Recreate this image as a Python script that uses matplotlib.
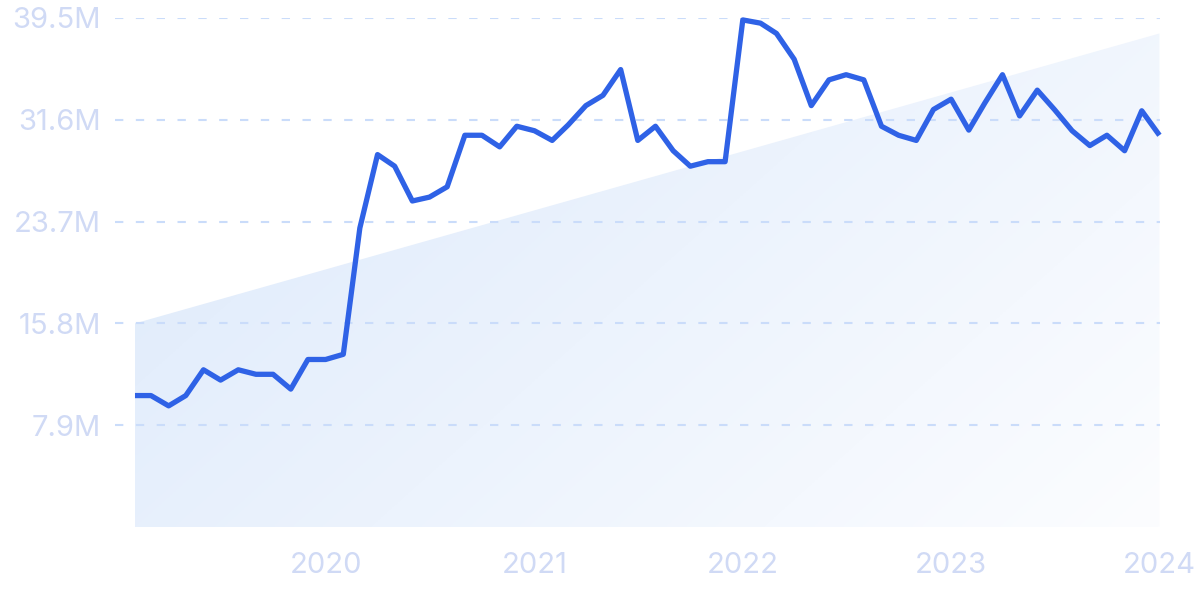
import matplotlib
matplotlib.use("Agg")
import matplotlib.pyplot as plt
import matplotlib.dates as mdates
from matplotlib.patches import Polygon
import numpy as np
import pandas as pd

plt.rcParams['font.family'] = ['Inter', 'DejaVu Sans']

# monthly values, millions (Feb 2019 .. Jan 2024)
months = pd.date_range("2019-02-01", "2024-01-01", freq="MS")
values = [10.2, 10.2, 9.4, 10.2, 12.2, 11.4, 12.2, 11.85, 11.85, 10.7, 13.0,
          13.0, 13.4, 23.2, 28.9, 28.0, 25.3, 25.6, 26.4, 30.4, 30.4, 29.5, 31.1,
          30.75, 30.0, 31.2, 32.7, 33.5, 35.5, 30.0, 31.1, 29.2, 28.0, 28.35, 28.35,
          39.35, 39.1, 38.3, 36.3, 32.7, 34.7, 35.1, 34.7, 31.1, 30.4, 30.0, 32.4,
          33.2, 30.8, 32.9, 35.1, 31.9, 33.9, 32.4, 30.75, 29.6, 30.4, 29.2, 32.3,
          30.4]
trend_start = 15.8
trend_end = 38.3
y_ticks = [7.9, 15.8, 23.7, 31.6, 39.5]
y_labels = ["7.9M", "15.8M", "23.7M", "31.6M", "39.5M"]
x_years = [2020, 2021, 2022, 2023, 2024]

label_col = "#d0daf5"
line_col = "#2f62e6"

fig = plt.figure(figsize=(12, 5.99), dpi=100)
ax = fig.add_axes([115 / 1200, 72 / 599, 1045 / 1200, 509 / 599])

x = mdates.date2num(months)
x0, x1 = x[0], x[-1]
ax.set_xlim(x0 - 35, x1 + 1)
ax.set_ylim(0, 39.5)

# trend area with diagonal gradient
poly = Polygon([(x0, 0), (x0, trend_start), (x1, trend_end), (x1, 0)],
               closed=True, facecolor="none", edgecolor="none")
ax.add_patch(poly)
gx, gy = np.meshgrid(np.linspace(0, 1, 300), np.linspace(0, 1, 200))
t = np.clip(0.65 * gx + 0.35 * gy, 0, 1)
c0 = np.array([220, 233, 251]) / 255
c1 = np.array([252, 253, 255]) / 255
img = c0[None, None, :] * (1 - t[..., None]) + c1[None, None, :] * t[..., None]
im = ax.imshow(img, extent=[x0, x1, 0, trend_end], origin="upper",
               aspect="auto", zorder=0)
im.set_clip_path(poly)

for yv in y_ticks:
    ax.axhline(yv, color="#cadcfa", lw=1.5, linestyle=(0, (4, 6)), zorder=1)

ax.plot(x, values, color=line_col, lw=3.8, solid_joinstyle="round",
        solid_capstyle="butt", zorder=3, clip_on=False)

ax.set_yticks(y_ticks)
ax.set_yticklabels(y_labels)
ax.set_xticks([mdates.date2num(pd.Timestamp(f"{y}-01-01")) for y in x_years])
ax.set_xticklabels([str(y) for y in x_years])
ax.tick_params(axis="both", length=0, labelsize=21, colors=label_col)
ax.tick_params(axis="y", pad=10)
ax.tick_params(axis="x", pad=18)
for s in ax.spines.values():
    s.set_visible(False)
ax.set_facecolor("none")

fig.savefig("out.png", dpi=100)
